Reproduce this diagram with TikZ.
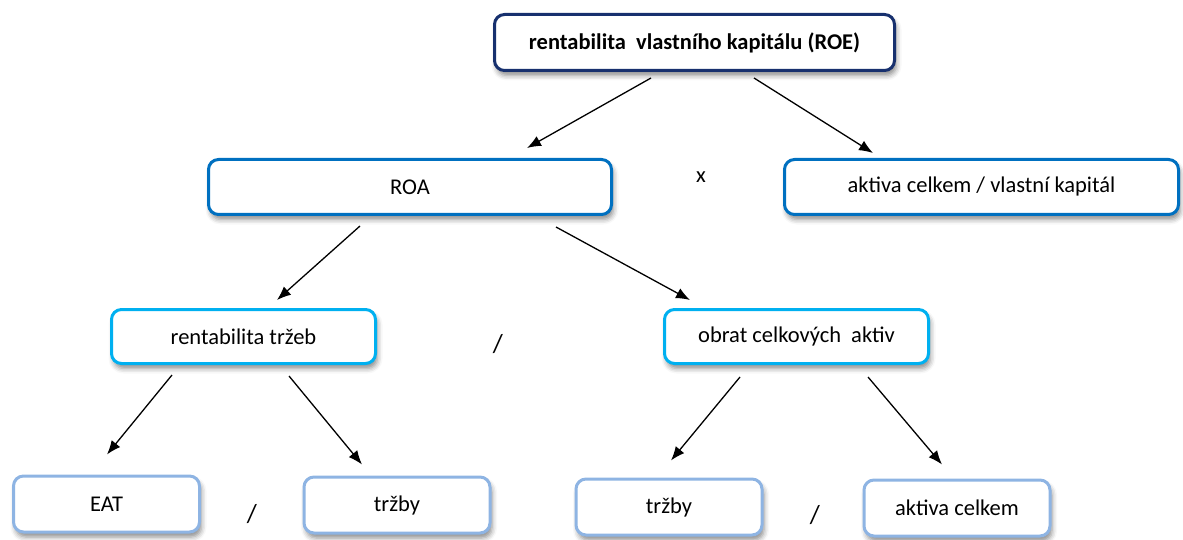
\documentclass[tikz,border=0pt]{standalone}
\usepackage{fontspec}
\setmainfont{Carlito}
\usetikzlibrary{arrows.meta,shadows.blur}

\definecolor{navyline}{RGB}{23,48,110}
\definecolor{roaline}{RGB}{0,112,192}
\definecolor{subline}{RGB}{0,176,240}
\definecolor{leafline}{RGB}{142,180,227}

\begin{document}
\begin{tikzpicture}[
			x=1pt, y=-1pt,
			font=\fontsize{22.5}{27}\selectfont,
			box/.style={draw, rounded corners=10pt, line width=3pt, fill=white, inner sep=0pt,
					blur shadow={shadow xshift=2pt, shadow yshift=-5pt, shadow blur radius=5pt, shadow opacity=45}},
			rootbox/.style={box, draw=navyline, minimum width=400pt, minimum height=56pt, font=\fontsize{22.5}{27}\selectfont\bfseries},
			midbox/.style={box, draw=roaline, minimum height=55pt},
			subbox/.style={box, draw=subline, minimum width=264pt, minimum height=54pt},
			leafbox/.style={box, draw=leafline, minimum width=186pt, minimum height=56pt},
			sign/.style={font=\fontsize{26}{30}\selectfont},
			arr/.style={-{Latex[length=14pt,width=11pt]}, line width=1.3pt}
		]
		\useasboundingbox (0,0) rectangle (1183,540);

		\node[rootbox] (roe) at (694.5,42.5) {rentabilita\ \ vlastního kapitálu (ROE)};
		\node[midbox, minimum width=403pt] (roa) at (410,187) {ROA};
		\node[midbox, minimum width=394pt] (lev) at (981.5,187) {aktiva celkem / vlastní kapitál};
		\node[subbox] (ros) at (243.5,336.5) {rentabilita tržeb};
		\node[subbox] (obrat) at (796.5,336.5) {obrat celkových\ \ aktiv};
		\node[leafbox] (eat) at (106.5,504) {EAT};
		\node[leafbox] (trzbyA) at (397,505) {tržby};
		\node[leafbox] (trzbyB) at (669,507) {tržby};
		\node[leafbox] (aktiva) at (957,508) {aktiva celkem};

		\node (krat) at (701,177) {x};
		\node[sign] (delA) at (498,344) {/};
		\node[sign] (delB) at (252,514) {/};
		\node[sign] (delC) at (815,515) {/};

		\draw[arr] ([xshift=-43.5pt,yshift=-6pt]roe.south) -- ([xshift=117pt,yshift=10pt]roa.north);
		\draw[arr] ([xshift=59.5pt,yshift=-6pt]roe.south) -- ([xshift=-108.5pt,yshift=5pt]lev.north);
		\draw[arr] ([xshift=-50pt,yshift=-10pt]roa.south) -- ([xshift=33.5pt,yshift=8pt]ros.north);
		\draw[arr] ([xshift=146pt,yshift=-11pt]roa.south) -- ([xshift=-106.5pt,yshift=8pt]obrat.north);
		\draw[arr] ([xshift=-71.5pt,yshift=-10pt]ros.south) -- ([xshift=0.5pt,yshift=20pt]eat.north);
		\draw[arr] ([xshift=45.5pt,yshift=-11pt]ros.south) -- ([xshift=-35pt,yshift=11pt]trzbyA.north);
		\draw[arr] ([xshift=-56.5pt,yshift=-12pt]obrat.south) -- ([xshift=2pt,yshift=17pt]trzbyB.north);
		\draw[arr] ([xshift=71.5pt,yshift=-12pt]obrat.south) -- ([xshift=-15pt,yshift=14pt]aktiva.north);
	\end{tikzpicture}
\end{document}
